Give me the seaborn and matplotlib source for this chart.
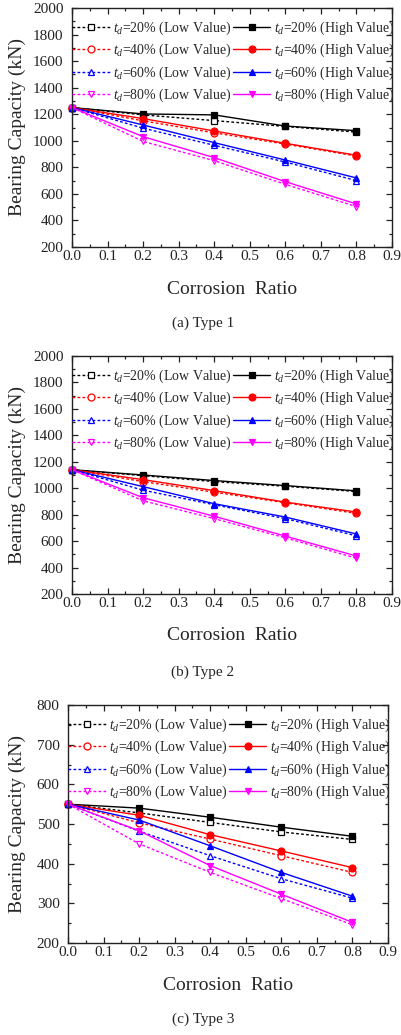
import numpy as np
import pandas as pd
import matplotlib
matplotlib.use("Agg")
import matplotlib.pyplot as plt
import matplotlib.font_manager as fm
from matplotlib.ticker import MultipleLocator, FormatStrFormatter
import seaborn as sns

sns.set_style("ticks")

serif_name = "Liberation Serif"
for f in fm.findSystemFonts():
    base = f.split("/")[-1]
    if base.startswith("LiberationSerif"):
        try:
            fm.fontManager.addfont(f)
            serif_name = fm.FontProperties(fname=f).get_name()
        except Exception:
            pass

plt.rcParams['font.family'] = [serif_name, 'DejaVu Serif']
plt.rcParams['mathtext.fontset'] = 'custom'
plt.rcParams['mathtext.rm'] = serif_name
plt.rcParams['mathtext.it'] = serif_name + ':italic'

ratio = [0.0, 0.2, 0.4, 0.6, 0.8]
td_levels = ["20%", "40%", "60%", "80%"]

# Type 1
t1_low_20 = [1250, 1195, 1152, 1108, 1065]
t1_high_20 = [1250, 1202, 1195, 1111, 1076]
t1_low_40 = [1250, 1150, 1060, 975, 885]
t1_high_40 = [1250, 1167, 1074, 981, 891]
t1_low_60 = [1250, 1095, 966, 840, 700]
t1_high_60 = [1250, 1119, 986, 855, 720]
t1_low_80 = [1250, 995, 850, 672, 504]
t1_high_80 = [1250, 1031, 873, 692, 524]

# Type 2
t2_low_20 = [1140, 1095, 1050, 1015, 975]
t2_high_20 = [1140, 1100, 1058, 1020, 980]
t2_low_40 = [1140, 1050, 970, 890, 810]
t2_high_40 = [1140, 1065, 982, 895, 820]
t2_low_60 = [1140, 985, 875, 770, 640]
t2_high_60 = [1140, 1012, 883, 782, 654]
t2_low_80 = [1140, 905, 770, 625, 470]
t2_high_80 = [1140, 928, 788, 638, 487]

# Type 3
t3_low_20 = [550, 528, 504, 480, 461]
t3_high_20 = [550, 540, 517, 492, 469]
t3_low_40 = [550, 503, 462, 420, 378]
t3_high_40 = [550, 522, 473, 432, 390]
t3_low_60 = [550, 482, 420, 362, 313]
t3_high_60 = [550, 510, 445, 378, 318]
t3_low_80 = [550, 450, 378, 312, 246]
t3_high_80 = [550, 483, 395, 323, 252]

panels = [
    dict(low=[t1_low_20, t1_low_40, t1_low_60, t1_low_80],
         high=[t1_high_20, t1_high_40, t1_high_60, t1_high_80],
         ylim=(200, 2000), major=200, minor=100, caption="(a) Type 1",
         rect=[72, 8, 392, 247], cap_y=323),
    dict(low=[t2_low_20, t2_low_40, t2_low_60, t2_low_80],
         high=[t2_high_20, t2_high_40, t2_high_60, t2_high_80],
         ylim=(200, 2000), major=200, minor=100, caption="(b) Type 2",
         rect=[72, 356, 392, 594], cap_y=672),
    dict(low=[t3_low_20, t3_low_40, t3_low_60, t3_low_80],
         high=[t3_high_20, t3_high_40, t3_high_60, t3_high_80],
         ylim=(200, 800), major=100, minor=50, caption="(c) Type 3",
         rect=[68, 705, 388, 943], cap_y=1019),
]

colors = ["black", "red", "blue", "#FF00FF"]
markers = ["s", "o", "^", "v"]

W, H = 401, 1035
fig = plt.figure(figsize=(W / 100, H / 100), dpi=100)

for p in panels:
    l, t, r, b = p["rect"]
    ax = fig.add_axes([l / W, 1 - b / H, (r - l) / W, (b - t) / H])
    for i, td in enumerate(td_levels):
        df = pd.DataFrame({"x": ratio, "y": p["low"][i]})
        sns.lineplot(data=df, x="x", y="y", ax=ax, color=colors[i],
                     marker=markers[i], markersize=5, markerfacecolor="white",
                     markeredgecolor=colors[i], markeredgewidth=0.9,
                     linestyle=(0, (2, 1.6)), linewidth=1.0, clip_on=False,
                     label=r"$t_d$=" + td + " (Low Value)", legend=False)
    for i, td in enumerate(td_levels):
        df = pd.DataFrame({"x": ratio, "y": p["high"][i]})
        sns.lineplot(data=df, x="x", y="y", ax=ax, color=colors[i],
                     marker=markers[i], markersize=5, markerfacecolor=colors[i],
                     markeredgecolor=colors[i], markeredgewidth=0.9,
                     linestyle="-", linewidth=1.0, clip_on=False,
                     label=r"$t_d$=" + td + " (High Value)", legend=False)
    ax.set_xlim(0, 0.9)
    ax.set_ylim(*p["ylim"])
    ax.xaxis.set_major_locator(MultipleLocator(0.1))
    ax.xaxis.set_minor_locator(MultipleLocator(0.05))
    ax.yaxis.set_major_locator(MultipleLocator(p["major"]))
    ax.yaxis.set_minor_locator(MultipleLocator(p["minor"]))
    ax.xaxis.set_major_formatter(FormatStrFormatter("%.1f"))
    ax.tick_params(which="both", direction="in", top=True, right=True,
                   labelsize=11, colors="#222222", width=0.9)
    ax.tick_params(which="major", length=4)
    ax.tick_params(which="minor", length=2)
    ax.tick_params(axis="x", pad=2)
    ax.tick_params(axis="y", pad=6)
    for s in ax.spines.values():
        s.set_linewidth(1.0)
        s.set_color("#222222")
    ax.set_xlabel("Corrosion  Ratio", fontsize=14)
    ax.set_ylabel("Bearing Capacity (kN)", fontsize=14)
    ah = b - t
    ax.xaxis.set_label_coords(0.5, -42 / ah)
    ax.xaxis.label.set_va("center")
    ax.yaxis.set_label_coords((17 - l) / (r - l), 0.5)
    ax.yaxis.label.set_va("center")
    ax.legend(ncol=2, loc="upper left", bbox_to_anchor=(0, 1 - 11.5 / ah),
              frameon=False, fontsize=10, borderaxespad=0, borderpad=0,
              handlelength=2.7, handletextpad=0.25, columnspacing=0.1,
              labelspacing=0.37)
    fig.text(0.506, 1 - p["cap_y"] / H, p["caption"], ha="center", va="center",
             fontsize=11)

fig.savefig("out.png", dpi=100)
